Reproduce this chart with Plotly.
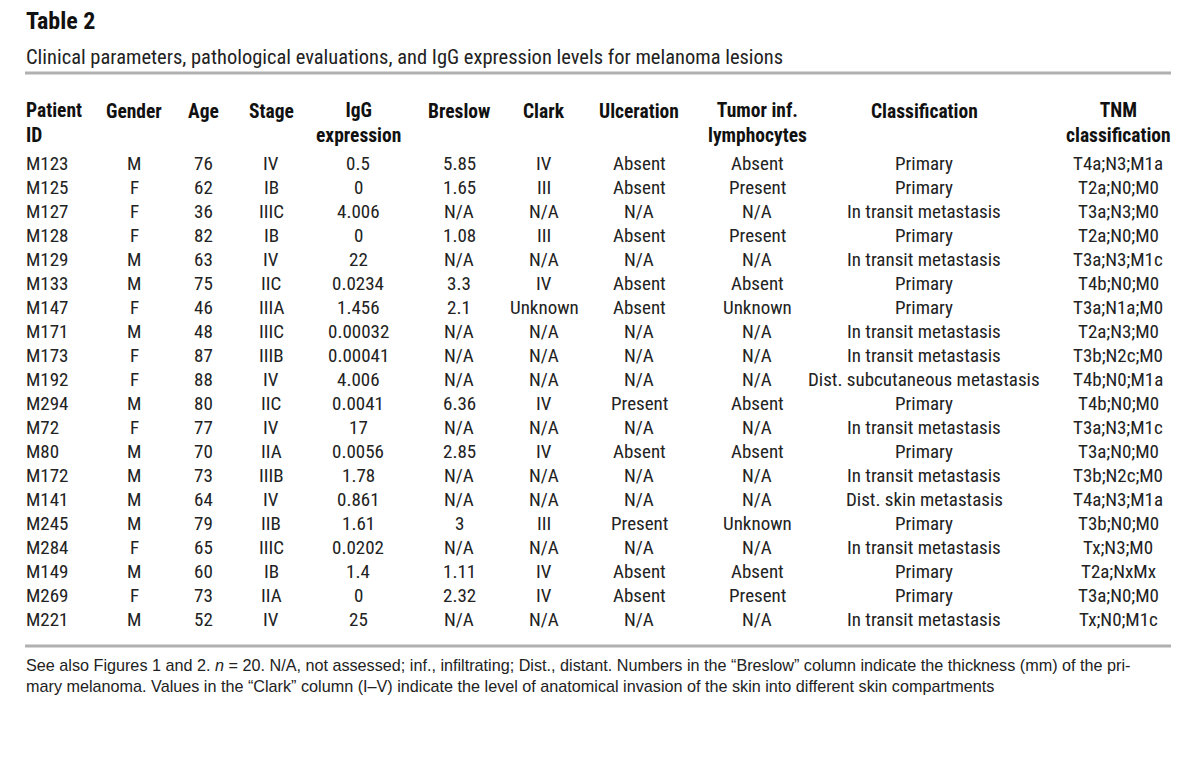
import plotly.graph_objects as go

title = "Table 2"
subtitle = "Clinical parameters, pathological evaluations, and IgG expression levels for melanoma lesions"
headers = ["Patient<br>ID", "Gender", "Age", "Stage", "IgG<br>expression", "Breslow", "Clark",
           "Ulceration", "Tumor inf.<br>lymphocytes", "Classification", "TNM<br>classification"]

patient_ids = ["M123", "M125", "M127", "M128", "M129", "M133", "M147", "M171", "M173", "M192",
               "M294", "M72", "M80", "M172", "M141", "M245", "M284", "M149", "M269", "M221"]
genders = ["M", "F", "F", "F", "M", "M", "F", "M", "F", "F",
           "M", "F", "M", "M", "M", "M", "F", "M", "F", "M"]
ages = ["76", "62", "36", "82", "63", "75", "46", "48", "87", "88",
        "80", "77", "70", "73", "64", "79", "65", "60", "73", "52"]
stages = ["IV", "IB", "IIIC", "IB", "IV", "IIC", "IIIA", "IIIC", "IIIB", "IV",
          "IIC", "IV", "IIA", "IIIB", "IV", "IIB", "IIIC", "IB", "IIA", "IV"]
igg = ["0.5", "0", "4.006", "0", "22", "0.0234", "1.456", "0.00032", "0.00041", "4.006",
       "0.0041", "17", "0.0056", "1.78", "0.861", "1.61", "0.0202", "1.4", "0", "25"]
breslow = ["5.85", "1.65", "N/A", "1.08", "N/A", "3.3", "2.1", "N/A", "N/A", "N/A",
           "6.36", "N/A", "2.85", "N/A", "N/A", "3", "N/A", "1.11", "2.32", "N/A"]
clark = ["IV", "III", "N/A", "III", "N/A", "IV", "Unknown", "N/A", "N/A", "N/A",
         "IV", "N/A", "IV", "N/A", "N/A", "III", "N/A", "IV", "IV", "N/A"]
ulceration = ["Absent", "Absent", "N/A", "Absent", "N/A", "Absent", "Absent", "N/A", "N/A", "N/A",
              "Present", "N/A", "Absent", "N/A", "N/A", "Present", "N/A", "Absent", "Absent", "N/A"]
til = ["Absent", "Present", "N/A", "Present", "N/A", "Absent", "Unknown", "N/A", "N/A", "N/A",
       "Absent", "N/A", "Absent", "N/A", "N/A", "Unknown", "N/A", "Absent", "Present", "N/A"]
classification = ["Primary", "Primary", "In transit metastasis", "Primary", "In transit metastasis",
                  "Primary", "Primary", "In transit metastasis", "In transit metastasis",
                  "Dist. subcutaneous metastasis", "Primary", "In transit metastasis", "Primary",
                  "In transit metastasis", "Dist. skin metastasis", "Primary", "In transit metastasis",
                  "Primary", "Primary", "In transit metastasis"]
tnm = ["T4a;N3;M1a", "T2a;N0;M0", "T3a;N3;M0", "T2a;N0;M0", "T3a;N3;M1c", "T4b;N0;M0", "T3a;N1a;M0",
       "T2a;N3;M0", "T3b;N2c;M0", "T4b;N0;M1a", "T4b;N0;M0", "T3a;N3;M1c", "T3a;N0;M0", "T3b;N2c;M0",
       "T4a;N3;M1a", "T3b;N0;M0", "Tx;N3;M0", "T2a;NxMx", "T3a;N0;M0", "Tx;N0;M1c"]

footnote1 = ("See also Figures 1 and 2. <i>n</i> = 20. N/A, not assessed; inf., infiltrating; Dist., distant. "
             "Numbers in the \u201cBreslow\u201d column indicate the thickness (mm) of the pri-")
footnote2 = ("mary melanoma. Values in the \u201cClark\u201d column (I\u2013V) indicate the level of anatomical "
             "invasion of the skin into different skin compartments")

columns = [patient_ids, genders, ages, stages, igg, breslow, clark, ulceration, til, classification, tnm]

# layout (pixel coordinates on a hidden axis)
col_x = [26, 136, 205, 273, 360, 461, 546, 641, 759, 926, 1120]
col_anchor = ["left"] + ["center"] * 10
row_y0 = 163
row_dy = 24.05
COND = "Roboto Condensed, DejaVu Sans Condensed, sans-serif"
REG = "Liberation Sans, Arial, Helvetica, sans-serif"

fig = go.Figure()
fig.add_trace(go.Scatter(x=[0, 1200], y=[0, 764], mode="markers",
                         marker=dict(opacity=0), hoverinfo="skip", showlegend=False))

ann = []
ann.append(dict(x=26, y=21, text="<b>" + title + "</b>", xanchor="left", yanchor="middle",
                font=dict(family=COND, size=24, color="#111")))
ann.append(dict(x=26, y=57, text=subtitle, xanchor="left", yanchor="middle",
                font=dict(family=COND, size=20.5, color="#222")))

for h, x, a in zip(headers, col_x, col_anchor):
    ann.append(dict(x=x, y=111, text="<b>" + h + "</b>", xanchor=a, yanchor="middle",
                    align=a, font=dict(family=COND, size=19.5, color="#111"),
                    yshift=-11.5 if "<br>" in h else 0))

for ci, col in enumerate(columns):
    for ri, val in enumerate(col):
        ann.append(dict(x=col_x[ci], y=row_y0 + ri * row_dy, text=val, xanchor=col_anchor[ci],
                        yanchor="middle", font=dict(family=COND, size=19, color="#222")))

ann.append(dict(x=26, y=665, text=footnote1, xanchor="left", yanchor="middle",
                font=dict(family=REG, size=16.2, color="#222")))
ann.append(dict(x=26, y=686, text=footnote2, xanchor="left", yanchor="middle",
                font=dict(family=REG, size=16.2, color="#222")))

for a in ann:
    a.update(xref="x", yref="y", showarrow=False)

shapes = [
    dict(type="line", xref="x", yref="y", x0=27, x1=1173, y0=73, y1=73,
         line=dict(color="#b0b0b0", width=3)),
    dict(type="line", xref="x", yref="y", x0=27, x1=1173, y0=646, y1=646,
         line=dict(color="#b0b0b0", width=3)),
]

fig.update_layout(
    width=1200, height=764,
    margin=dict(l=0, r=0, t=0, b=0),
    paper_bgcolor="white", plot_bgcolor="white",
    xaxis=dict(range=[10, 1210], visible=False, fixedrange=True),
    yaxis=dict(range=[772, 8], visible=False, fixedrange=True),
    annotations=ann, shapes=shapes, showlegend=False,
)

fig.write_html("out.html")
